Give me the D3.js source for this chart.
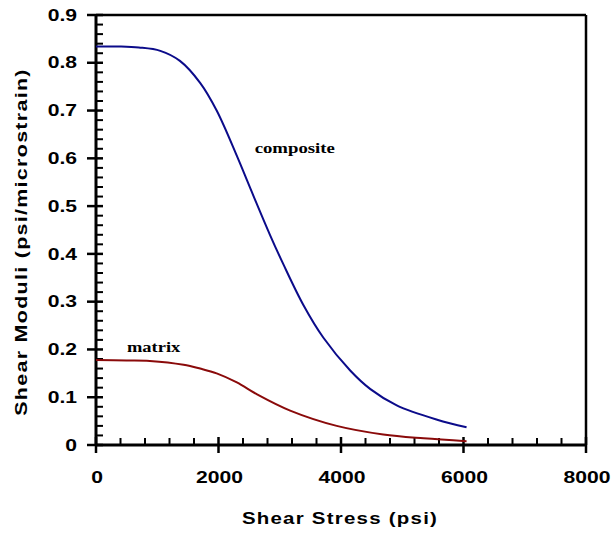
<!DOCTYPE html>
<html>
<head>
<meta charset="utf-8">
<script src="https://cdn.jsdelivr.net/npm/d3@7"></script>
<style>
  body { margin: 0; background: #fff; }
  svg { display: block; }
  .tick-label { font-family: Arial, "Liberation Sans", sans-serif; font-weight: bold; font-size: 16px; fill: #000; }
  .axis-title { font-family: Arial, "Liberation Sans", sans-serif; font-weight: bold; font-size: 16.5px; letter-spacing: 1px; fill: #000; }
  .annot { font-family: "Liberation Serif", "Times New Roman", serif; font-weight: bold; font-size: 14px; fill: #000; }
</style>
</head>
<body>
<svg id="chart" width="611" height="533"></svg>
<script>
// ---- data ----
const compositeStress = [0, 400, 700, 1050, 1370, 1700, 1970, 2300, 2520, 2840, 3060, 3390, 3710, 4150, 4480, 4910, 5570, 6050];
const compositeModulus = [0.834, 0.834, 0.832, 0.825, 0.804, 0.758, 0.700, 0.605, 0.537, 0.440, 0.378, 0.292, 0.225, 0.156, 0.117, 0.083, 0.053, 0.037];
const matrixStress = [0, 500, 880, 1430, 1700, 1970, 2300, 2630, 3170, 3930, 4690, 5350, 6050];
const matrixModulus = [0.178, 0.177, 0.176, 0.168, 0.160, 0.150, 0.131, 0.106, 0.072, 0.040, 0.022, 0.014, 0.008];
const xTicks = [0, 2000, 4000, 6000, 8000];
const yTicks = [0, 0.1, 0.2, 0.3, 0.4, 0.5, 0.6, 0.7, 0.8, 0.9];
const seriesNames = ["composite", "matrix"];
const xTitle = "Shear Stress (psi)";
const yTitle = "Shear Moduli (psi/microstrain)";

(function () {
// ---- layout ----
const svg = d3.select("#chart");
const pl = 96, pt = 15, pr = 586, pb = 445;
const x = d3.scaleLinear().domain([0, 8000]).range([pl, pr]);
const y = d3.scaleLinear().domain([0, 0.9]).range([pb, pt]);
const stretch = 1.32;

function wideText(parent, cls, tx, ty, txt, anchor, rot, sx) {
  const g = parent.append("g").attr("transform", `translate(${tx},${ty})` + (rot ? ` rotate(${rot})` : ""));
  return g.append("text").attr("class", cls).attr("transform", `scale(${sx || stretch},1)`)
    .attr("text-anchor", anchor || "start").text(txt);
}

// frame (top and right)
svg.append("line").attr("x1", pl).attr("x2", pr).attr("y1", pt).attr("y2", pt)
  .attr("stroke", "#000").attr("stroke-width", 2.5);
svg.append("line").attr("x1", pr).attr("x2", pr).attr("y1", pt).attr("y2", pb)
  .attr("stroke", "#000").attr("stroke-width", 2.5);

// minor ticks (inward)
const xMinor = d3.range(0, 8001, 400).filter(v => v % 2000 !== 0);
const yMinor = d3.range(0, 91, 2).map(v => v / 100).filter(v => Math.round(v * 100) % 10 !== 0);
svg.append("g").selectAll("line").data(xMinor).join("line")
  .attr("x1", d => x(d)).attr("x2", d => x(d)).attr("y1", pb).attr("y2", pb - 7)
  .attr("stroke", "#000").attr("stroke-width", 2);
svg.append("g").selectAll("line").data(yMinor).join("line")
  .attr("x1", pl).attr("x2", pl + 7).attr("y1", d => y(d)).attr("y2", d => y(d))
  .attr("stroke", "#000").attr("stroke-width", 2);

// major ticks (crossing)
svg.append("g").selectAll("line").data(xTicks).join("line")
  .attr("x1", d => x(d)).attr("x2", d => x(d)).attr("y1", pb - 8).attr("y2", pb + 8)
  .attr("stroke", "#000").attr("stroke-width", 2.5);
svg.append("g").selectAll("line").data(yTicks).join("line")
  .attr("x1", pl - 9).attr("x2", pl + 7).attr("y1", d => y(d)).attr("y2", d => y(d))
  .attr("stroke", "#000").attr("stroke-width", 2.5);

// axis lines
svg.append("line").attr("x1", pl).attr("x2", pr).attr("y1", pb).attr("y2", pb)
  .attr("stroke", "#000").attr("stroke-width", 3);
svg.append("line").attr("x1", pl).attr("x2", pl).attr("y1", pt).attr("y2", pb)
  .attr("stroke", "#000").attr("stroke-width", 3);

// tick labels
xTicks.forEach(d => wideText(svg, "tick-label", x(d) + 1, 483, d3.format("d")(d), "middle"));
yTicks.forEach(d => wideText(svg, "tick-label", 77, y(d) + 5.7, d === 0 ? "0" : d3.format(".1f")(d), "end"));

// axis titles
wideText(svg, "axis-title", 340, 524, xTitle, "middle", 0, 1.24);
wideText(svg, "axis-title", 27, 242, yTitle, "middle", -90, 1.3);

// curves
const line = d3.line().x(d => x(d[0])).y(d => y(d[1])).curve(d3.curveCatmullRom.alpha(0.5));
svg.append("path").datum(d3.zip(compositeStress, compositeModulus))
  .attr("d", line).attr("fill", "none").attr("stroke", "#0b0b8a").attr("stroke-width", 2);
svg.append("path").datum(d3.zip(matrixStress, matrixModulus))
  .attr("d", line).attr("fill", "none").attr("stroke", "#8a0a0a").attr("stroke-width", 2);

// annotations
wideText(svg, "annot", x(2590), y(0.612), seriesNames[0], "start", 0, 1.34);
wideText(svg, "annot", x(505), y(0.195), seriesNames[1], "start", 0, 1.32);
})();
</script>
</body>
</html>
